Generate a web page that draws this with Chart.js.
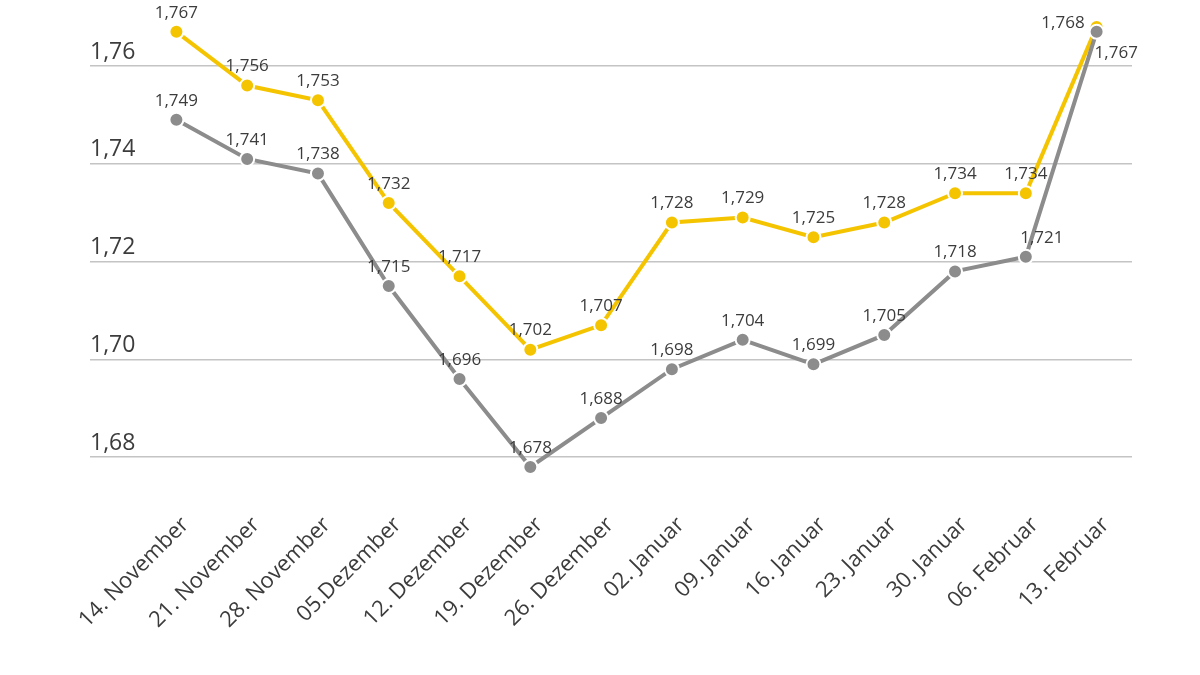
<!DOCTYPE html>
<html>
<head>
<meta charset="utf-8">
<script src="https://cdn.jsdelivr.net/npm/chart.js@4/dist/chart.umd.min.js"></script>
<style>
  html, body { margin: 0; padding: 0; background: #fff; }
  #wrap { width: 1200px; height: 675px; }
</style>
</head>
<body>
<div id="wrap"><canvas id="grafico"></canvas></div>
<script>
const kategorien = ['14. November', '21. November', '28. November', '05.Dezember', '12. Dezember',
    '19. Dezember', '26. Dezember', '02. Januar', '09. Januar', '16. Januar', '23. Januar',
    '30. Januar', '06. Februar', '13. Februar'];

const serieGelb = [1.767, 1.756, 1.753, 1.732, 1.717, 1.702, 1.707, 1.728, 1.729, 1.725, 1.728, 1.734, 1.734, 1.768];
const serieGrau = [1.749, 1.741, 1.738, 1.715, 1.696, 1.678, 1.688, 1.698, 1.704, 1.699, 1.705, 1.718, 1.721, 1.767];

const yTicks = [1.68, 1.70, 1.72, 1.74, 1.76];

const fmt = v => v.toFixed(3).replace('.', ',');
const fmtTick = v => v.toFixed(2).replace('.', ',');

// Werte über die Punkte schreiben
const wertePlugin = {
    id: 'werte',
    afterDatasetsDraw(chart) {
        const ctx = chart.ctx;
        ctx.save();
        ctx.font = '500 17px "Open Sans"';
        ctx.fillStyle = '#3c3c3c';
        chart.data.datasets.forEach((ds, di) => {
            const meta = chart.getDatasetMeta(di);
            meta.data.forEach((pt, i) => {
                let x = pt.x, y = pt.y - 19;
                ctx.textAlign = 'center';
                ctx.textBaseline = 'middle';
                if (i === ds.data.length - 1) {
                    if (ds.label === 'gelb') { ctx.textAlign = 'right'; x = pt.x - 12; y = pt.y - 4; }
                    else { ctx.textAlign = 'left'; x = pt.x - 2; y = pt.y + 21; }
                } else if (ds.label === 'grau' && i === ds.data.length - 2) {
                    x = pt.x + 16;
                }
                ctx.fillText(fmt(ds.data[i]), x, y);
            });
        });
        ctx.restore();
    }
};

new Chart(document.getElementById('grafico'), {
    type: 'line',
    data: {
        labels: kategorien,
        datasets: [
            {
                label: 'gelb',
                data: serieGelb,
                borderColor: '#F5C400',
                backgroundColor: '#F5C400',
                borderWidth: 4,
                pointRadius: 7,
                pointBorderColor: '#fff',
                pointBorderWidth: 2,
                pointBackgroundColor: '#F5C400',
                order: 2
            },
            {
                label: 'grau',
                data: serieGrau,
                borderColor: '#8C8C8C',
                backgroundColor: '#8C8C8C',
                borderWidth: 4,
                pointRadius: 7,
                pointBorderColor: '#fff',
                pointBorderWidth: 2,
                pointBackgroundColor: '#8C8C8C',
                order: 1
            }
        ]
    },
    options: {
        responsive: true,
        maintainAspectRatio: false,
        animation: false,
        layout: { padding: { left: 90, right: 68, top: 20, bottom: 35 } },
        plugins: {
            legend: { display: false },
            tooltip: { enabled: false }
        },
        scales: {
            x: {
                offset: true,
                grid: { display: false },
                border: { display: false },
                afterFit(scale) { scale.height = 140; },
                ticks: {
                    color: '#3c3c3c',
                    font: { family: 'Open Sans', size: 22, weight: 500 },
                    minRotation: 45,
                    maxRotation: 45,
                    autoSkip: false,
                    labelOffset: 9,
                    padding: 4
                }
            },
            y: {
                min: 1.67125,
                max: 1.76941,
                border: { display: false },
                afterFit(scale) { scale.width = 51; },
                afterBuildTicks(scale) { scale.ticks = yTicks.map(v => ({ value: v })); },
                grid: { color: '#C4C4C4', lineWidth: 1.5, tickLength: 51 },
                ticks: {
                    color: '#3c3c3c',
                    font: { family: 'Open Sans', size: 23, weight: 500 },
                    crossAlign: 'far',
                    labelOffset: -14,
                    padding: 0,
                    callback: v => fmtTick(v)
                }
            }
        }
    },
    plugins: [wertePlugin]
});
</script>
</body>
</html>
